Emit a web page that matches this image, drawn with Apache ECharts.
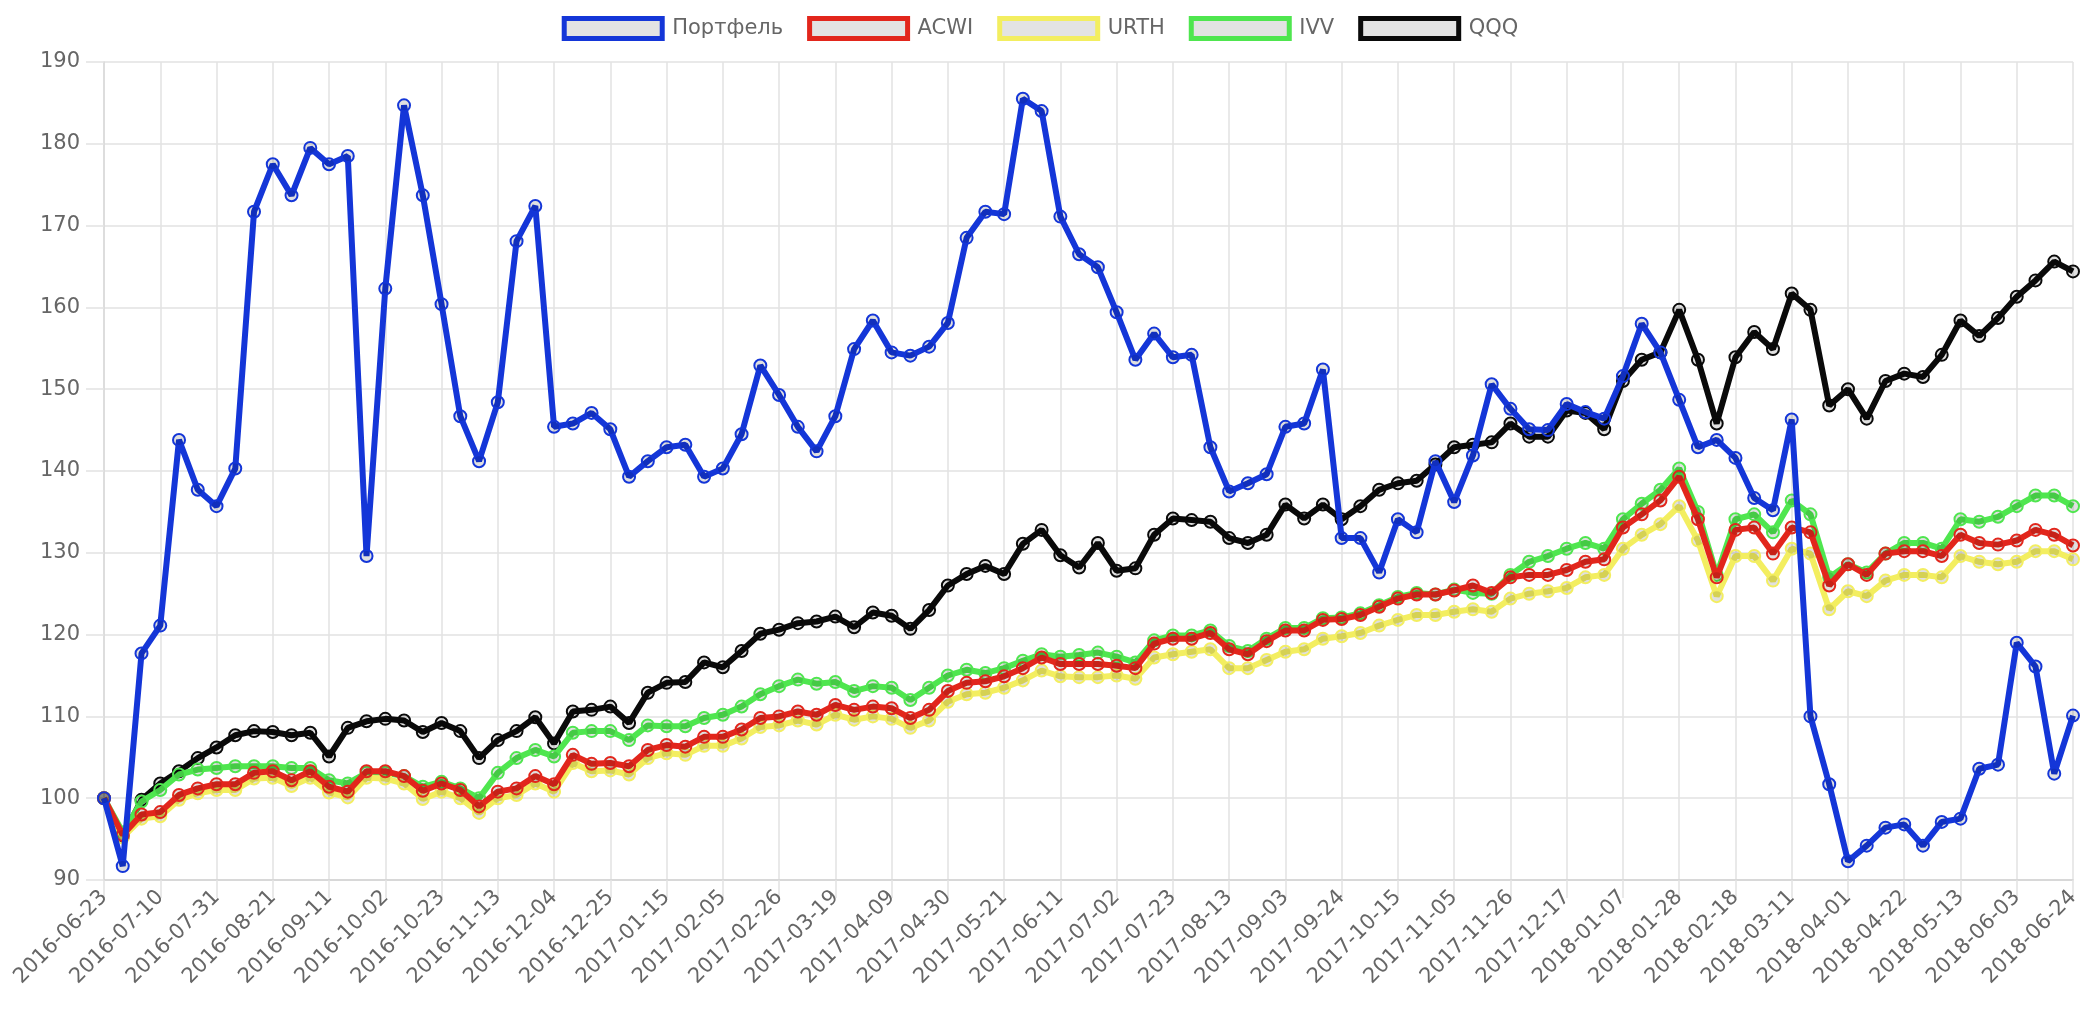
<!DOCTYPE html>
<html>
<head>
<meta charset="utf-8">
<script src="https://cdn.jsdelivr.net/npm/echarts@6/dist/echarts.min.js"></script>
<style>
html,body{margin:0;padding:0;background:#fff;}
#chart{width:2080px;height:1030px;}
</style>
</head>
<body>
<div id="chart"></div>
<script>
const dates = [
"2016-06-23","2016-06-26","2016-07-03","2016-07-10","2016-07-17","2016-07-24","2016-07-31","2016-08-07","2016-08-14","2016-08-21",
"2016-08-28","2016-09-04","2016-09-11","2016-09-18","2016-09-25","2016-10-02","2016-10-09","2016-10-16","2016-10-23","2016-10-30",
"2016-11-06","2016-11-13","2016-11-20","2016-11-27","2016-12-04","2016-12-11","2016-12-18","2016-12-25","2017-01-01","2017-01-08",
"2017-01-15","2017-01-22","2017-01-29","2017-02-05","2017-02-12","2017-02-19","2017-02-26","2017-03-05","2017-03-12","2017-03-19",
"2017-03-26","2017-04-02","2017-04-09","2017-04-16","2017-04-23","2017-04-30","2017-05-07","2017-05-14","2017-05-21","2017-05-28",
"2017-06-04","2017-06-11","2017-06-18","2017-06-25","2017-07-02","2017-07-09","2017-07-16","2017-07-23","2017-07-30","2017-08-06",
"2017-08-13","2017-08-20","2017-08-27","2017-09-03","2017-09-10","2017-09-17","2017-09-24","2017-10-01","2017-10-08","2017-10-15",
"2017-10-22","2017-10-29","2017-11-05","2017-11-12","2017-11-19","2017-11-26","2017-12-03","2017-12-10","2017-12-17","2017-12-24",
"2017-12-31","2018-01-07","2018-01-14","2018-01-21","2018-01-28","2018-02-04","2018-02-11","2018-02-18","2018-02-25","2018-03-04",
"2018-03-11","2018-03-18","2018-03-25","2018-04-01","2018-04-08","2018-04-15","2018-04-22","2018-04-29","2018-05-06","2018-05-13",
"2018-05-20","2018-05-27","2018-06-03","2018-06-10","2018-06-17","2018-06-24"
];

const portfolio = [
100.0,91.7,117.7,121.1,143.8,137.7,135.7,140.3,171.7,177.5,
173.7,179.5,177.5,178.5,129.6,162.3,184.7,173.7,160.4,146.7,
141.2,148.4,168.1,172.4,145.4,145.8,147.1,145.1,139.3,141.2,
142.9,143.2,139.3,140.3,144.5,152.9,149.3,145.4,142.4,146.7,
154.9,158.4,154.5,154.1,155.2,158.1,168.5,171.7,171.4,185.5,
184.0,171.1,166.5,164.9,159.4,153.6,156.8,153.9,154.2,142.9,
137.5,138.5,139.6,145.4,145.8,152.4,131.8,131.8,127.6,134.1,
132.5,141.2,136.2,141.9,150.6,147.6,145.1,145.0,148.2,147.2,
146.4,151.6,158.0,154.5,148.7,142.9,143.8,141.6,136.7,135.2,
146.3,110.0,101.7,92.3,94.2,96.4,96.8,94.2,97.1,97.5,
103.6,104.1,119.0,116.1,103.0,110.1
];

const acwi = [
100.0,95.5,98.0,98.3,100.4,101.2,101.7,101.7,103.1,103.3,
102.2,103.3,101.4,100.8,103.3,103.3,102.7,100.9,101.8,101.0,
99.0,100.8,101.2,102.7,101.7,105.3,104.2,104.3,103.9,105.9,
106.5,106.3,107.5,107.5,108.4,109.8,110.0,110.6,110.2,111.4,
110.8,111.2,111.0,109.8,110.8,113.1,114.1,114.3,114.9,115.9,
117.2,116.4,116.4,116.4,116.2,115.9,118.9,119.5,119.5,120.2,
118.2,117.6,119.2,120.5,120.5,121.8,121.9,122.4,123.4,124.4,
124.9,124.9,125.4,126.0,125.1,127.0,127.3,127.3,127.9,128.9,
129.2,133.1,134.7,136.4,139.3,134.1,127.0,132.8,133.1,129.9,
133.1,132.5,126.0,128.6,127.3,129.9,130.2,130.2,129.6,132.2,
131.2,131.0,131.5,132.8,132.2,130.9
];

const urth = [
100.0,95.2,97.5,97.8,99.8,100.6,101.0,101.0,102.4,102.5,
101.5,102.5,100.7,100.1,102.5,102.4,101.8,99.9,100.8,100.0,
98.2,100.0,100.4,101.8,100.8,104.3,103.3,103.4,102.9,104.9,
105.5,105.3,106.4,106.4,107.3,108.7,108.9,109.5,109.0,110.2,
109.6,110.0,109.7,108.6,109.5,111.8,112.7,112.9,113.5,114.4,
115.6,114.9,114.8,114.8,115.0,114.6,117.2,117.6,117.9,118.2,
115.9,115.9,116.9,117.9,118.2,119.5,119.8,120.2,121.1,121.8,
122.4,122.4,122.8,123.1,122.8,124.4,125.0,125.3,125.7,127.0,
127.3,130.5,132.2,133.5,135.7,131.5,124.7,129.6,129.6,126.6,
130.5,129.9,123.1,125.3,124.7,126.6,127.3,127.3,127.0,129.6,
128.9,128.6,128.9,130.2,130.2,129.2
];

const ivv = [
100.0,95.8,99.6,101.0,102.9,103.5,103.7,103.9,103.9,103.9,
103.7,103.7,102.2,101.8,103.1,103.1,102.7,101.4,102.0,101.2,
100.0,103.1,104.9,105.9,105.1,108.0,108.2,108.2,107.1,108.9,
108.8,108.8,109.8,110.2,111.2,112.7,113.7,114.5,114.0,114.2,
113.1,113.7,113.5,112.0,113.5,115.0,115.7,115.3,115.9,116.8,
117.6,117.3,117.5,117.8,117.3,116.6,119.3,119.9,119.9,120.5,
118.6,118.0,119.5,120.8,120.8,122.0,122.1,122.6,123.6,124.6,
125.1,124.9,125.5,125.1,125.0,127.3,128.9,129.6,130.5,131.2,
130.5,134.1,136.0,137.7,140.3,135.0,127.3,134.1,134.7,132.5,
136.4,134.7,127.0,128.6,127.6,129.9,131.2,131.2,130.5,134.1,
133.8,134.4,135.7,137.0,137.0,135.7
];

const qqq = [
100.0,95.3,99.8,101.8,103.3,104.9,106.2,107.7,108.2,108.1,
107.7,108.0,105.1,108.6,109.4,109.7,109.5,108.1,109.2,108.2,
104.9,107.1,108.2,109.9,106.7,110.6,110.8,111.2,109.2,112.9,
114.1,114.2,116.6,116.0,118.0,120.1,120.6,121.4,121.6,122.2,
120.9,122.7,122.3,120.7,123.0,126.0,127.4,128.4,127.4,131.1,
132.8,129.7,128.2,131.2,127.8,128.1,132.2,134.2,134.0,133.8,
131.8,131.2,132.2,135.9,134.2,135.9,134.1,135.7,137.7,138.5,
138.8,140.8,142.9,143.2,143.5,145.8,144.2,144.2,147.4,147.1,
145.1,151.0,153.6,154.5,159.7,153.6,145.8,153.9,157.0,154.9,
161.7,159.7,148.0,150.0,146.4,151.0,151.9,151.5,154.2,158.4,
156.5,158.7,161.3,163.3,165.6,164.4
];

const seriesNames = ["Портфель","ACWI","URTH","IVV","QQQ"];
const seriesColors = ["#1436d8","#e2261c","#f3ee60","#4fe64f","#0a0a0a"];
const seriesData = [portfolio, acwi, urth, ivv, qqq];
const seriesZ = [10, 9, 8, 7, 6];

const chart = echarts.init(document.getElementById('chart'), null, {renderer: 'canvas'});

const FONT = '"DejaVu Sans", sans-serif';

const series = seriesNames.map((name, i) => ({
  name: name,
  type: 'line',
  data: seriesData[i],
  z: seriesZ[i],
  symbol: 'circle',
  symbolSize: 12,
  showSymbol: true,
  showAllSymbol: true,
  lineStyle: {color: seriesColors[i], width: 6},
  itemStyle: {color: 'rgba(0,0,0,0.12)', borderColor: seriesColors[i], borderWidth: 2},
  emphasis: {disabled: true},
  animation: false
}));

chart.setOption({
  animation: false,
  backgroundColor: '#ffffff',
  legend: {
    top: 11,
    left: 'center',
    icon: 'rect',
    itemWidth: 98,
    itemHeight: 20,
    itemGap: 24,
    textStyle: {fontFamily: FONT, fontSize: 21, color: '#666666', padding: [0, 0, 0, 5]},
    data: seriesNames.map((n, i) => ({
      name: n,
      icon: 'rect',
      itemStyle: {color: '#e3e3e3', borderColor: seriesColors[i], borderWidth: 5}
    }))
  },
  grid: {left: 104, right: 7, top: 62, bottom: 150, outerBoundsMode: 'none', containLabel: false},
  xAxis: {
    type: 'category',
    boundaryGap: false,
    data: dates,
    axisLine: {show: true, lineStyle: {color: '#d2d2d2', width: 1.5}},
    axisTick: {show: true, interval: 2, length: 18, lineStyle: {color: '#e2e2e2', width: 1.5}},
    axisLabel: {interval: 2, rotate: 45, margin: 14, fontFamily: FONT, fontSize: 21, color: '#666666'},
    splitLine: {show: true, interval: 2, lineStyle: {color: '#e2e2e2', width: 1.5}}
  },
  yAxis: {
    type: 'value',
    min: 90,
    max: 190,
    interval: 10,
    axisLine: {show: true, lineStyle: {color: '#d8d8d8', width: 1.5}},
    axisTick: {show: true, length: 18, lineStyle: {color: '#e2e2e2', width: 1.5}},
    axisLabel: {margin: 24, fontFamily: FONT, fontSize: 21, color: '#666666'},
    splitLine: {show: true, lineStyle: {color: '#e2e2e2', width: 1.5}}
  },
  series: series
});
</script>
</body>
</html>
